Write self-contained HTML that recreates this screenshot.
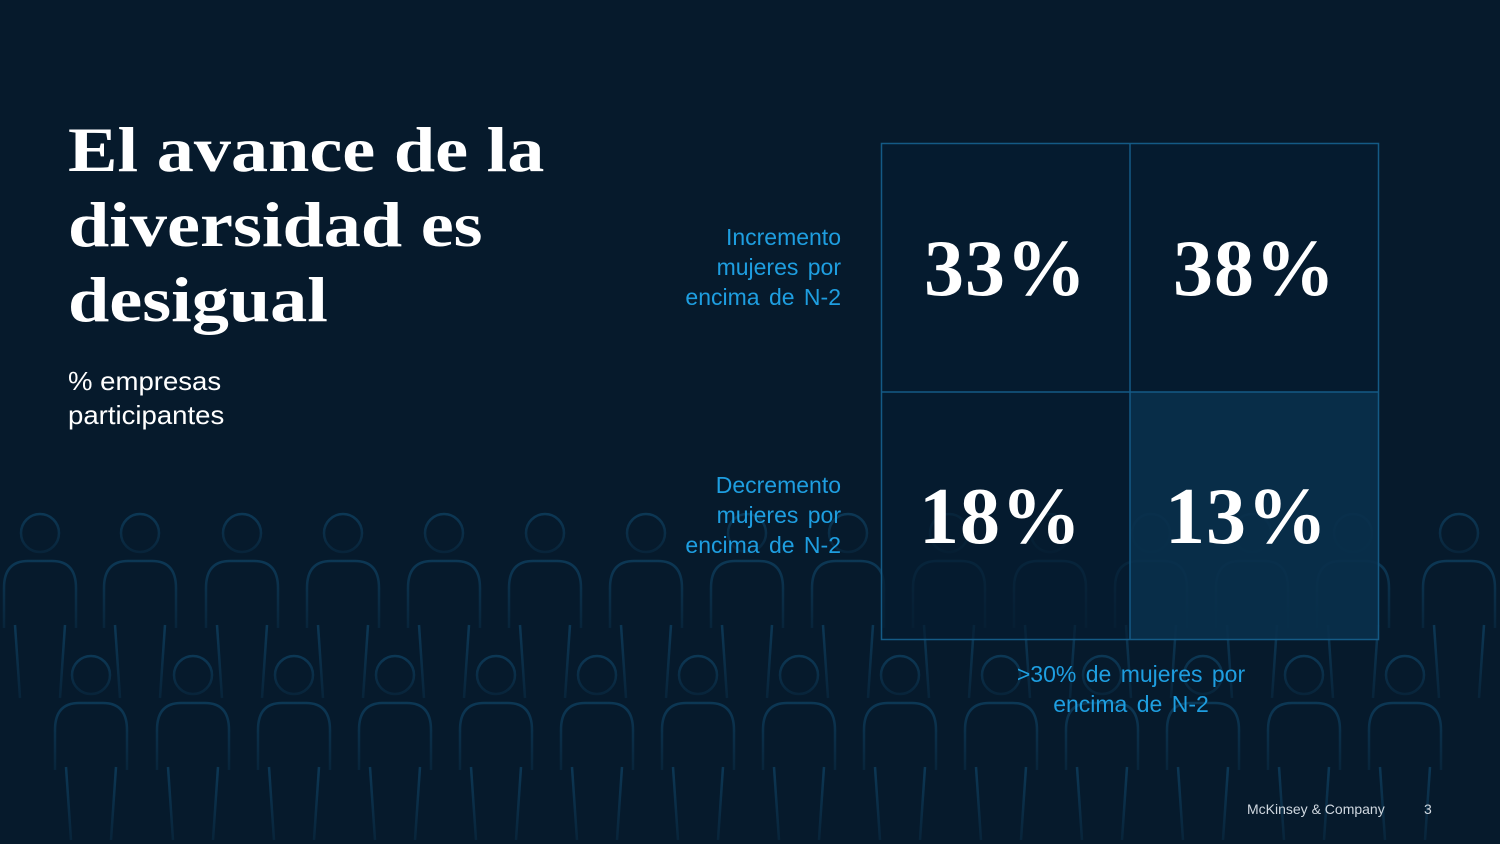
<!DOCTYPE html>
<html><head><style>
html,body{margin:0;padding:0}
body{width:1500px;height:844px;overflow:hidden;background:#061a2c;position:relative;font-family:"Liberation Sans",sans-serif}
.t{position:absolute;left:68px;top:112px;color:#fff;font-family:"Liberation Serif",serif;font-weight:bold;font-size:64px;line-height:75px;transform:scaleX(1.16);transform-origin:0 0;white-space:nowrap}
.s{position:absolute;left:68px;top:364px;color:#fff;font-size:26px;line-height:34px;transform:scaleX(1.06);transform-origin:0 0}
.lab{position:absolute;right:659px;color:#1e9ee0;font-size:23px;line-height:30px;text-align:right;word-spacing:3px}
.p{position:absolute;color:#fff;font-family:"Liberation Serif",serif;font-weight:bold;font-size:80px;width:249px;text-align:center;letter-spacing:1px}
.ft{position:absolute;color:#d0d8e0;font-size:14px;top:801px}
</style></head><body>
<svg width="1500" height="844" style="position:absolute;left:0;top:0">
<defs><linearGradient id="g" x1="0" y1="0" x2="0" y2="1"><stop offset="0" stop-color="#0f4466" stop-opacity="0.7"/><stop offset="1" stop-color="#0f4466" stop-opacity="0.25"/></linearGradient>
<g id="m" fill="none" stroke="url(#g)" stroke-width="2.5">
<circle cx="0" cy="0" r="19"/>
<path d="M-36,95 L-36,55 Q-36,28 -12,28 L12,28 Q36,28 36,55 L36,95"/>
<line x1="-25" y1="92" x2="-20" y2="165"/><line x1="25" y1="92" x2="20" y2="165"/>
</g></defs>
<g>
<use href="#m" x="40" y="533"/><use href="#m" x="140" y="533"/><use href="#m" x="242" y="533"/><use href="#m" x="343" y="533"/><use href="#m" x="444" y="533"/><use href="#m" x="545" y="533"/><use href="#m" x="646" y="533"/><use href="#m" x="747" y="533"/><use href="#m" x="848" y="533"/><use href="#m" x="949" y="533"/><use href="#m" x="1050" y="533"/><use href="#m" x="1151" y="533"/><use href="#m" x="1252" y="533"/><use href="#m" x="1353" y="533"/><use href="#m" x="1459" y="533"/>
<use href="#m" x="91" y="675"/><use href="#m" x="193" y="675"/><use href="#m" x="294" y="675"/><use href="#m" x="395" y="675"/><use href="#m" x="496" y="675"/><use href="#m" x="597" y="675"/><use href="#m" x="698" y="675"/><use href="#m" x="799" y="675"/><use href="#m" x="900" y="675"/><use href="#m" x="1001" y="675"/><use href="#m" x="1102" y="675"/><use href="#m" x="1203" y="675"/><use href="#m" x="1304" y="675"/><use href="#m" x="1405" y="675"/>
</g>
<rect x="881" y="143" width="498" height="497" fill="#061c30" fill-opacity="0.7"/>
<rect x="1130" y="392" width="249" height="248" fill="#0a3452" fill-opacity="0.7"/>
<g stroke="#145a85" stroke-width="1.5" fill="none">
<rect x="881.5" y="143.5" width="497" height="496"/>
<line x1="1130" y1="143" x2="1130" y2="640"/><line x1="881" y1="392" x2="1379" y2="392"/>
</g>
</svg>
<div class="t">El avance de la<br>diversidad es<br>desigual</div>
<div class="s">% empresas<br>participantes</div>
<div class="lab" style="top:222px">Incremento<br>mujeres por<br>encima de N-2</div>
<div class="lab" style="top:470px">Decremento<br>mujeres por<br>encima de N-2</div>
<div class="p" style="left:881px;top:224px">33%</div>
<div class="p" style="left:1130px;top:224px">38%</div>
<div class="p" style="left:876px;top:472px">18%</div>
<div class="p" style="left:1122px;top:472px">13%</div>
<div class="lab" style="right:auto;left:981px;width:300px;text-align:center;top:659px">&gt;30% de mujeres por<br>encima de N-2</div>
<div class="ft" style="left:1247px">McKinsey &amp; Company</div>
<div class="ft" style="left:1424px">3</div>
</body></html>
